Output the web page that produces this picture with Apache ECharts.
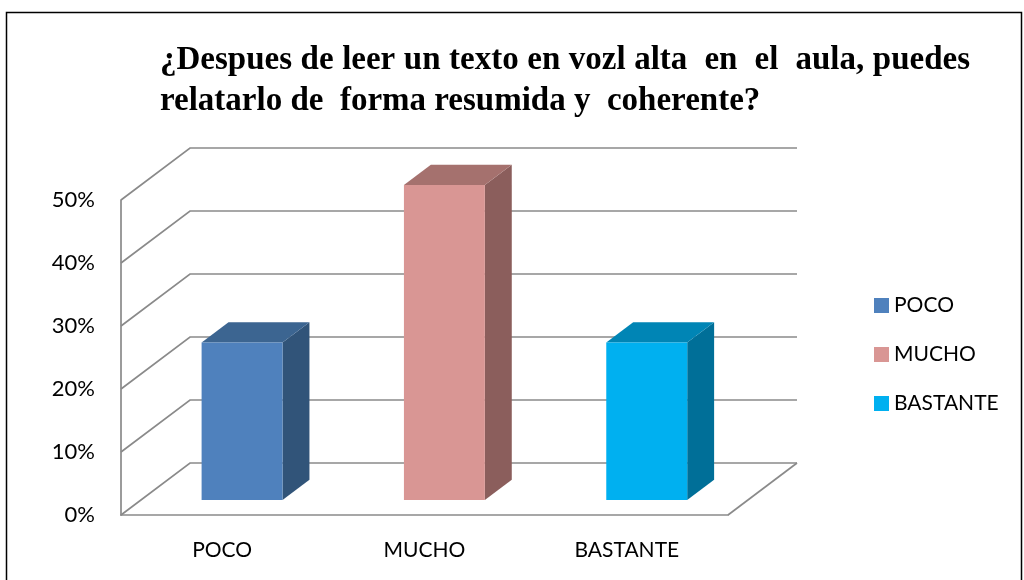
<!DOCTYPE html>
<html>
<head>
<meta charset="utf-8">
<script src="https://cdn.jsdelivr.net/npm/echarts@6/dist/echarts.min.js"></script>
<style>
  html, body { margin: 0; padding: 0; background: #fff; }
  #chart { width: 1024px; height: 580px; }
</style>
</head>
<body>
<div id="chart"></div>
<script>
const titleLines = [
  '¿Despues de leer un texto en vozl alta  en  el  aula, puedes',
  'relatarlo de  forma resumida y  coherente?'
]
const categories = ['POCO', 'MUCHO', 'BASTANTE']
const values = [25, 50, 25]
const yTicks = [0, 10, 20, 30, 40, 50]
const frontColors = ['#4f81bd', '#d99694', '#00b0f0']
const topColors = ['#3c6591', '#a5716e', '#0085b5']
const sideColors = ['#315479', '#8b5e5c', '#006f98']

// depth offset of the 3d box (px)
const DX = 69
const DY = -52
const BAR_FRONT = 15 / 52
const BAR_DEPTH = 0.39

const TITLE_FONT = 'bold 33px "Liberation Serif"'
const TITLE_LEFT = 160
const TITLE_RIGHT = 970

const chart = echarts.init(document.getElementById('chart'))

// first title line is justified like in the word processor, last line is not
function titleGraphics() {
  const ctx = document.createElement('canvas').getContext('2d')
  ctx.font = TITLE_FONT
  const out = []
  const textStyle = { font: TITLE_FONT, fill: '#000', verticalAlign: 'middle' }
  const line = titleLines[0]
  const spaces = line.split('').filter(c => c === ' ').length
  const extra = (TITLE_RIGHT - TITLE_LEFT - ctx.measureText(line).width) / spaces
  let pos = 0
  line.split(' ').forEach(word => {
    if (word) {
      const prefix = line.slice(0, pos)
      const nSp = prefix.split('').filter(c => c === ' ').length
      out.push({
        type: 'text',
        x: TITLE_LEFT + ctx.measureText(prefix).width + nSp * extra,
        y: 60,
        style: Object.assign({ text: word }, textStyle),
        silent: true
      })
    }
    pos += word.length + 1
  })
  out.push({
    type: 'text',
    x: TITLE_LEFT,
    y: 101,
    style: Object.assign({ text: titleLines[1] }, textStyle),
    silent: true
  })
  return out
}

function renderFrame(params, api) {
  const cs = params.coordSys
  const y = api.coord([0, api.value(1)])[1]
  const x0 = cs.x
  const x1 = cs.x + cs.width
  const lineStyle = { stroke: '#8a8a8a', lineWidth: 1.7, fill: null }
  const children = [{
    type: 'polyline',
    shape: { points: [[x0, y], [x0 + DX, y + DY], [x1 + DX, y + DY]] },
    style: lineStyle
  }]
  if (api.value(1) === 0) {
    children.push({
      type: 'line',
      shape: { x1: x1, y1: y, x2: x1 + DX, y2: y + DY },
      style: lineStyle
    })
  }
  return { type: 'group', children: children }
}

function makeBarRender(i) {
  return function (params, api) {
    const base = api.coord([api.value(0), 0])
    const top = api.coord([api.value(0), api.value(1)])
    const band = api.size([1, 0])[0]
    const hw = band * 0.2
    const fx = base[0] + DX * BAR_FRONT
    const fy0 = base[1] + DY * BAR_FRONT
    const fy1 = top[1] + DY * BAR_FRONT
    const ddx = DX * BAR_DEPTH
    const ddy = DY * BAR_DEPTH
    const l = fx - hw
    const r = fx + hw
    return {
      type: 'group',
      children: [
        {
          type: 'polygon',
          shape: { points: [[r, fy0], [r + ddx, fy0 + ddy], [r + ddx, fy1 + ddy], [r, fy1]] },
          style: { fill: sideColors[i] }
        },
        {
          type: 'polygon',
          shape: { points: [[l, fy1], [r, fy1], [r + ddx, fy1 + ddy], [l + ddx, fy1 + ddy]] },
          style: { fill: topColors[i] }
        },
        {
          type: 'rect',
          shape: { x: l, y: fy1, width: r - l, height: fy0 - fy1 },
          style: { fill: frontColors[i] }
        }
      ]
    }
  }
}

const series = [{
  name: 'frame',
  type: 'custom',
  z: 1,
  clip: false,
  silent: true,
  renderItem: renderFrame,
  data: yTicks.map(v => [0, v])
}]
categories.forEach((name, i) => {
  series.push({
    name: name,
    type: 'custom',
    z: 3,
    clip: false,
    itemStyle: { color: frontColors[i] },
    renderItem: makeBarRender(i),
    data: [[i, values[i]]]
  })
})

const option = {
  animation: false,
  legend: {
    data: categories,
    orient: 'vertical',
    left: 869,
    top: 290,
    itemWidth: 15,
    itemHeight: 15,
    itemGap: 28,
    icon: 'rect',
    textStyle: { fontFamily: 'Lato', fontSize: 21, color: '#000' }
  },
  graphic: [{
    type: 'rect',
    left: 4,
    top: 10,
    shape: { width: 1015, height: 600 },
    style: { fill: null, stroke: '#000', lineWidth: 1.5 },
    silent: true
  }].concat(titleGraphics()),
  grid: {
    left: 121,
    right: 296,
    top: 200,
    bottom: 65
  },
  xAxis: {
    type: 'category',
    data: categories,
    axisTick: { show: false },
    axisLine: { lineStyle: { color: '#8a8a8a', width: 1.7 } },
    axisLabel: { margin: 25, fontFamily: 'Lato', fontSize: 21, color: '#000' }
  },
  yAxis: {
    type: 'value',
    min: 0,
    max: 50,
    interval: 10,
    splitLine: { show: false },
    axisTick: { show: false },
    axisLine: { show: true, lineStyle: { color: '#8a8a8a', width: 1.7 } },
    axisLabel: { margin: 26, formatter: '{value}%', fontFamily: 'Lato', fontSize: 22, color: '#000' }
  },
  series: series
}
option && chart.setOption(option)
</script>
</body>
</html>
